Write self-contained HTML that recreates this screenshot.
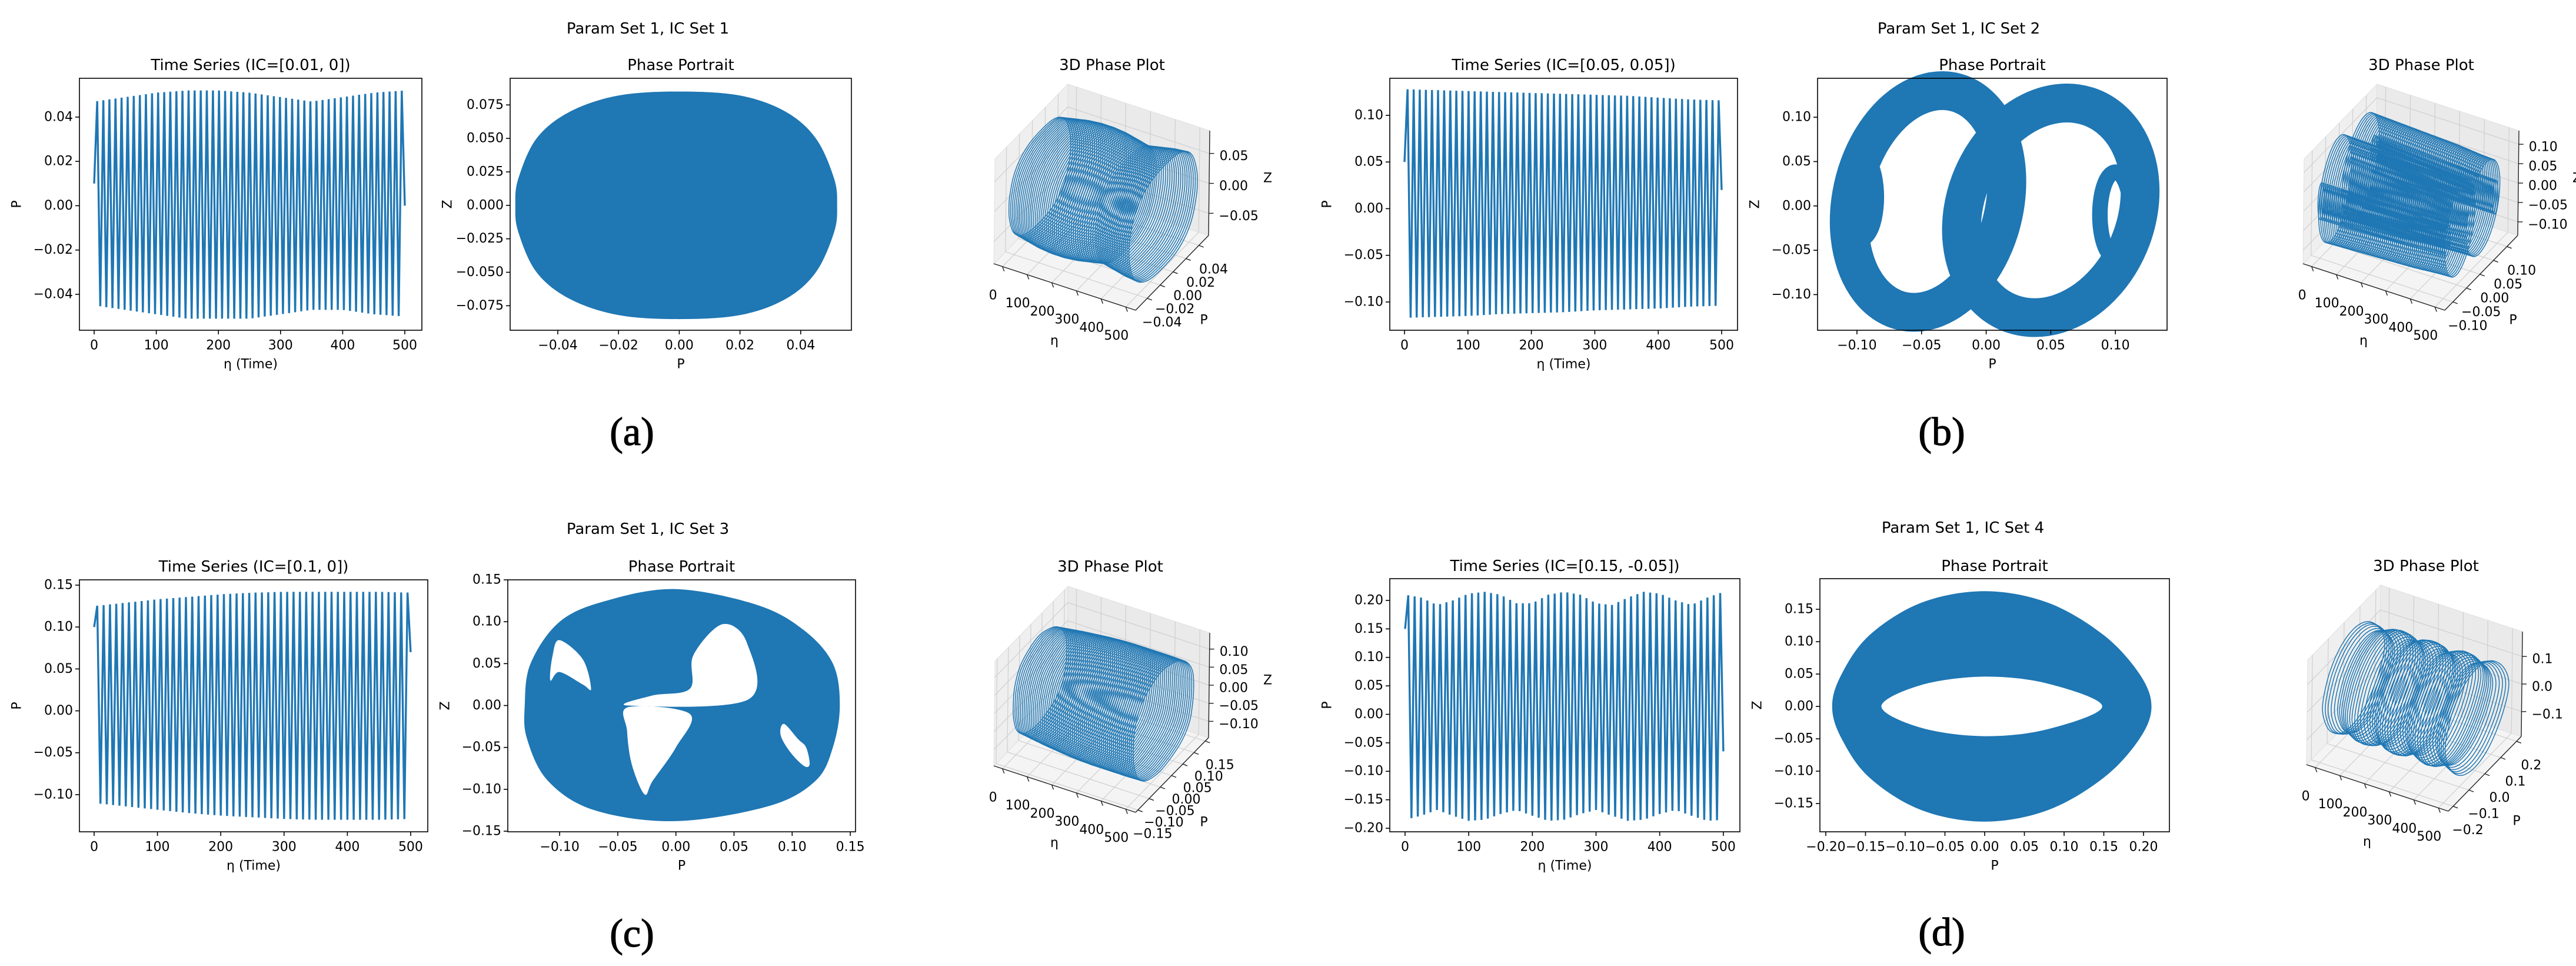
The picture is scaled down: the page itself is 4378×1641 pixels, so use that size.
<!DOCTYPE html>
<html><head><meta charset="utf-8"><style>
html,body{margin:0;padding:0;background:#fff;}
svg{display:block;font-family:"DejaVu Sans","Liberation Sans",sans-serif;}
</style></head><body>
<svg id="fig" width="4378" height="1641" viewBox="0 0 4378 1641" xmlns="http://www.w3.org/2000/svg">
<rect width="4378" height="1641" fill="#fff"/>
</svg>
<script>
// ---------- DATA ----------
const tsTimes = [0,50,100,150,200,250,300,350,400,450,500];
const tsUpperA = [0.047,0.049,0.051,0.052,0.052,0.051,0.049,0.047,0.049,0.051,0.052];
const tsLowerA = [-0.045,-0.047,-0.049,-0.051,-0.051,-0.051,-0.049,-0.047,-0.047,-0.049,-0.050];
const tsUpperB = [0.128,0.127,0.126,0.125,0.124,0.123,0.122,0.121,0.119,0.117,0.116];
const tsLowerB = [-0.117,-0.116,-0.115,-0.113,-0.112,-0.111,-0.109,-0.108,-0.107,-0.105,-0.104];
const tsUpperC = [0.125,0.129,0.133,0.136,0.139,0.141,0.142,0.142,0.142,0.142,0.141];
const tsLowerC = [-0.110,-0.114,-0.118,-0.122,-0.125,-0.127,-0.129,-0.130,-0.130,-0.130,-0.129];
const tsTimesD = [0,25,50,75,100,125,150,175,200,225,250,275,300,325,350,375,400,425,450,475,500];
const tsUpperD = [0.21,0.205,0.192,0.2,0.212,0.215,0.21,0.195,0.195,0.21,0.215,0.21,0.195,0.192,0.205,0.215,0.212,0.2,0.192,0.205,0.215];
const tsLowerD = [-0.185,-0.178,-0.168,-0.178,-0.187,-0.185,-0.175,-0.168,-0.178,-0.187,-0.185,-0.175,-0.168,-0.178,-0.187,-0.185,-0.175,-0.168,-0.178,-0.187,-0.185];
const tsCycles = [51,52,50,50];
const tsStart = [0.01,0.05,0.1,0.15];
const tsEnd = [0.0,0.02,0.07,-0.065];

const tsXTicks = [0,100,200,300,400,500];
const tsYTicksA = [-0.04,-0.02,0,0.02,0.04];
const tsYLabelsA = ["\u22120.04","\u22120.02","0.00","0.02","0.04"];
const tsYTicksB = [-0.10,-0.05,0,0.05,0.10];
const tsYLabelsB = ["\u22120.10","\u22120.05","0.00","0.05","0.10"];
const tsYTicksC = [-0.10,-0.05,0,0.05,0.10,0.15];
const tsYLabelsC = ["\u22120.10","\u22120.05","0.00","0.05","0.10","0.15"];
const tsYTicksD = [-0.20,-0.15,-0.10,-0.05,0,0.05,0.10,0.15,0.20];
const tsYLabelsD = ["\u22120.20","\u22120.15","\u22120.10","\u22120.05","0.00","0.05","0.10","0.15","0.20"];

const phXTicksA = [-0.04,-0.02,0,0.02,0.04];
const phXLabelsA = ["\u22120.04","\u22120.02","0.00","0.02","0.04"];
const phYTicksA = [-0.075,-0.05,-0.025,0,0.025,0.05,0.075];
const phYLabelsA = ["\u22120.075","\u22120.050","\u22120.025","0.000","0.025","0.050","0.075"];
const phXTicksB = [-0.10,-0.05,0,0.05,0.10];
const phXLabelsB = ["\u22120.10","\u22120.05","0.00","0.05","0.10"];
const phYTicksB = [-0.10,-0.05,0,0.05,0.10];
const phYLabelsB = ["\u22120.10","\u22120.05","0.00","0.05","0.10"];
const phXTicksC = [-0.10,-0.05,0,0.05,0.10,0.15];
const phXLabelsC = ["\u22120.10","\u22120.05","0.00","0.05","0.10","0.15"];
const phYTicksC = [-0.15,-0.10,-0.05,0,0.05,0.10,0.15];
const phYLabelsC = ["\u22120.15","\u22120.10","\u22120.05","0.00","0.05","0.10","0.15"];
const phXTicksD = [-0.20,-0.15,-0.10,-0.05,0,0.05,0.10,0.15,0.20];
const phXLabelsD = ["\u22120.20","\u22120.15","\u22120.10","\u22120.05","0.00","0.05","0.10","0.15","0.20"];
const phYTicksD = [-0.15,-0.10,-0.05,0,0.05,0.10,0.15];
const phYLabelsD = ["\u22120.15","\u22120.10","\u22120.05","0.00","0.05","0.10","0.15"];

// phase portrait outlines (P, Z)
const phOuterPA = [0,0.02,0.035,0.045,0.051,0.052,0.051,0.045,0.035,0.02,0,-0.02,-0.036,-0.047,-0.053,-0.054,-0.053,-0.047,-0.036,-0.02];
const phOuterZA = [0.085,0.082,0.07,0.05,0.02,0,-0.02,-0.05,-0.07,-0.082,-0.085,-0.082,-0.07,-0.05,-0.02,0,0.02,0.05,0.07,0.082];
const phOuterPC = [0.0,0.07,0.11,0.135,0.141,0.135,0.12,0.08,0.0,-0.07,-0.11,-0.128,-0.13,-0.125,-0.1,-0.06];
const phOuterZC = [0.139,0.12,0.09,0.05,0,-0.05,-0.09,-0.12,-0.138,-0.125,-0.09,-0.04,0,0.05,0.1,0.125];
const phHole1PC = [0.04,0.061,0.062,-0.041,-0.02,0.012,0.015];
const phHole1ZC = [0.097,0.075,0.007,0.0,0.012,0.02,0.06];
const phHole2PC = [-0.041,0.012,0.0,-0.02,-0.027,-0.038,-0.042];
const phHole2ZC = [-0.002,-0.01,-0.05,-0.09,-0.106,-0.07,-0.03];
const phHole3PC = [-0.1,-0.08,-0.073,-0.08,-0.1,-0.108,-0.106];
const phHole3ZC = [0.078,0.055,0.02,0.025,0.04,0.03,0.06];
const phHole4PC = [0.093,0.105,0.112,0.115,0.11,0.098,0.09];
const phHole4ZC = [-0.022,-0.04,-0.05,-0.07,-0.072,-0.055,-0.035];
const phOuterPD = [0.0,0.08,0.15,0.195,0.21,0.195,0.15,0.08,0,-0.08,-0.145,-0.18,-0.192,-0.18,-0.145,-0.08];
const phOuterZD = [0.178,0.16,0.11,0.05,0,-0.05,-0.11,-0.16,-0.178,-0.16,-0.11,-0.05,0,0.05,0.11,0.16];
const phHolePD = [-0.13,-0.08,0,0.08,0.148,0.08,0,-0.08];
const phHoleZD = [0,0.033,0.046,0.035,0,-0.035,-0.046,-0.033];
// panel b rings (bands)
const bRingCx = [-0.045,0.05,-0.097,0.1];
const bRingCz = [0.005,-0.005,0.01,-0.01];
const bRingRx = [0.06,0.068,0.012,0.012];
const bRingRz = [0.125,0.121,0.047,0.048];
const bRingShear = [0.011,0.0125,0,0];
const bRingWidth = [0.03,0.03,0.012,0.012];

// 3D tick values
const d3PTicksA=[-0.04,-0.02,0,0.02,0.04], d3PLabelsA=["\u22120.04","\u22120.02","0.00","0.02","0.04"];
const d3ZTicksA=[-0.05,0,0.05], d3ZLabelsA=["\u22120.05","0.00","0.05"];
const d3PTicksB=[-0.10,-0.05,0,0.05,0.10], d3PLabelsB=["\u22120.10","\u22120.05","0.00","0.05","0.10"];
const d3ZTicksB=[-0.10,-0.05,0,0.05,0.10], d3ZLabelsB=["\u22120.10","\u22120.05","0.00","0.05","0.10"];
const d3PTicksC=[-0.15,-0.10,-0.05,0,0.05,0.10,0.15], d3PLabelsC=["\u22120.15","\u22120.10","\u22120.05","0.00","0.05","0.10","0.15"];
const d3ZTicksC=[-0.10,-0.05,0,0.05,0.10], d3ZLabelsC=["\u22120.10","\u22120.05","0.00","0.05","0.10"];
const d3PTicksD=[-0.2,-0.1,0,0.1,0.2], d3PLabelsD=["\u22120.2","\u22120.1","0.0","0.1","0.2"];
const d3ZTicksD=[-0.1,0,0.1], d3ZLabelsD=["\u22120.1","0.0","0.1"];
const d3EtaTicks=[0,100,200,300,400,500];

// ---------- HELPERS ----------
const NS='http://www.w3.org/2000/svg';
const svg=document.getElementById('fig');
const BLUE='#1f77b4';
function mk(tag,parent){const e=document.createElementNS(NS,tag);(parent||svg).appendChild(e);return e;}
function scale(lim,a,b){return v=>a+(v-lim[0])/(lim[1]-lim[0])*(b-a);}
function interp(xs,ys,x){for(let i=0;i<xs.length-1;i++){if(x<=xs[i+1]){const f=(x-xs[i])/(xs[i+1]-xs[i]);return ys[i]+f*(ys[i+1]-ys[i]);}}return ys[ys.length-1];}
function smooth(pts){const n=pts.length;let d='M'+pts[0][0].toFixed(1)+','+pts[0][1].toFixed(1);
 for(let i=0;i<n;i++){const p0=pts[(i-1+n)%n],p1=pts[i],p2=pts[(i+1)%n],p3=pts[(i+2)%n];
  d+='C'+(p1[0]+(p2[0]-p0[0])/6).toFixed(1)+','+(p1[1]+(p2[1]-p0[1])/6).toFixed(1)+' '+(p2[0]-(p3[0]-p1[0])/6).toFixed(1)+','+(p2[1]-(p3[1]-p1[1])/6).toFixed(1)+' '+p2[0].toFixed(1)+','+p2[1].toFixed(1);}
 return d+'Z';}
function text(g,x,y,s,size,anchor,extra){const t=mk('text',g);t.setAttribute('x',x);t.setAttribute('y',y);t.setAttribute('font-size',size);t.setAttribute('text-anchor',anchor||'middle');t.setAttribute('dominant-baseline','central');t.setAttribute('fill','#000');if(extra)t.setAttribute('transform',extra);t.textContent=s;return t;}
function line(g,x1,y1,x2,y2,c,w){const l=mk('line',g);l.setAttribute('x1',x1);l.setAttribute('y1',y1);l.setAttribute('x2',x2);l.setAttribute('y2',y2);l.setAttribute('stroke',c);l.setAttribute('stroke-width',w);return l;}

function axesFrame(g,b,xt,xl,yt,yl,sx,sy,xlabel,ylabel){
 const r=mk('rect',g);r.setAttribute('x',b.l);r.setAttribute('y',b.t);r.setAttribute('width',b.r-b.l);r.setAttribute('height',b.b-b.t);r.setAttribute('fill','none');r.setAttribute('stroke','#000');r.setAttribute('stroke-width',1.6);
 
 
 xt.forEach((v,i)=>{const x=sx(v);const tk=line(g,x,b.b,x,b.b+7,'#000',1.6);
  
  
  const t=text(g,x,b.b+26,xl[i],22);
  
  });
 yt.forEach((v,i)=>{const y=sy(v);const tk=line(g,b.l-7,y,b.l,y,'#000',1.6);
  
  
  const t=text(g,b.l-11,y,yl[i],22,'end');
  
  });
 const xa=text(g,(b.l+b.r)/2,b.b+58,xlabel,22);
 
 
 const ya=text(g,b.l-106,(b.t+b.b)/2,ylabel,22,'middle','rotate(-90 '+(b.l-106)+' '+((b.t+b.b)/2)+')');
 
 
}

// ---------- LAYOUT ----------
const panels=[
 {key:'a',sup:'Param Set 1, IC Set 1',sub:'Time Series (IC=[0.01, 0])',supX:1101,supY:49,subY:111,lab:'(a)',labX:1074,labY:733,
  ts:{l:135,r:717,t:133,b:561,x:[-23.7,527.5],y:[-0.0562,0.0575]},ph:{l:867,r:1447,t:133,b:561,x:[-0.0557,0.0567],y:[-0.0933,0.0949]},
  d3:{A:[1689,448],title:1890},up:tsUpperA,lo:tsLowerA,tt:tsTimes,yt:tsYTicksA,yl:tsYLabelsA,pxt:phXTicksA,pxl:phXLabelsA,pyt:phYTicksA,pyl:phYLabelsA,
  pT:d3PTicksA,pL:d3PLabelsA,zT:d3ZTicksA,zL:d3ZLabelsA,pR:[-0.058,0.055],zR:[-0.087,0.088]},
 {key:'b',sup:'Param Set 1, IC Set 2',sub:'Time Series (IC=[0.05, 0.05])',supX:3329,supY:49,subY:111,lab:'(b)',labX:3300,labY:733,
  ts:{l:2362,r:2953,t:133,b:561,x:[-23.2,525],y:[-0.1303,0.1397]},ph:{l:3089,r:3683,t:133,b:561,x:[-0.1305,0.140],y:[-0.1402,0.1439]},
  d3:{A:[3914,448],title:4115},up:tsUpperB,lo:tsLowerB,tt:tsTimes,yt:tsYTicksB,yl:tsYLabelsB,pxt:phXTicksB,pxl:phXLabelsB,pyt:phYTicksB,pyl:phYLabelsB,
  pT:d3PTicksB,pL:d3PLabelsB,zT:d3ZTicksB,zL:d3ZLabelsB,pR:[-0.13,0.14],zR:[-0.135,0.135]},
 {key:'c',sup:'Param Set 1, IC Set 3',sub:'Time Series (IC=[0.1, 0])',supX:1101,supY:899,subY:963,lab:'(c)',labX:1074,labY:1585,
  ts:{l:135,r:727,t:985,b:1413,x:[-23.2,527],y:[-0.1443,0.1563]},ph:{l:863,r:1454,t:985,b:1413,x:[-0.1446,0.1545],y:[-0.1507,0.15]},
  d3:{A:[1689,1301],title:1887},up:tsUpperC,lo:tsLowerC,tt:tsTimes,yt:tsYTicksC,yl:tsYLabelsC,pxt:phXTicksC,pxl:phXLabelsC,pyt:phYTicksC,pyl:phYLabelsC,
  pT:d3PTicksC,pL:d3PLabelsC,zT:d3ZTicksC,zL:d3ZLabelsC,pR:[-0.16,0.165],zR:[-0.145,0.145]},
 {key:'d',sup:'Param Set 1, IC Set 4',sub:'Time Series (IC=[0.15, -0.05])',supX:3336,supY:897,subY:962,lab:'(d)',labX:3300,labY:1583,
  ts:{l:2362,r:2957,t:983,b:1413,x:[-24,526],y:[-0.2062,0.2382]},ph:{l:3093,r:3687,t:983,b:1413,x:[-0.2074,0.2326],y:[-0.1936,0.1973]},
  d3:{A:[3920,1299],title:4123},up:tsUpperD,lo:tsLowerD,tt:tsTimesD,yt:tsYTicksD,yl:tsYLabelsD,pxt:phXTicksD,pxl:phXLabelsD,pyt:phYTicksD,pyl:phYLabelsD,
  pT:d3PTicksD,pL:d3PLabelsD,zT:d3ZTicksD,zL:d3ZLabelsD,pR:[-0.23,0.23],zR:[-0.19,0.19]}
];
const etaR=[-35,540];

function phaseCurves(k){
 const z=(P,Z)=>P.map((p,i)=>[p,Z[i]]);
 if(k==='a')return {outer:[z(phOuterPA,phOuterZA)],holes:[]};
 if(k==='c')return {outer:[z(phOuterPC,phOuterZC)],holes:[z(phHole1PC,phHole1ZC),z(phHole2PC,phHole2ZC),z(phHole3PC,phHole3ZC),z(phHole4PC,phHole4ZC)]};
 if(k==='d')return {outer:[z(phOuterPD,phOuterZD)],holes:[z(phHolePD,phHoleZD)]};
 const rings=bRingCx.map((cx,i)=>{const pts=[];for(let j=0;j<24;j++){const t=j/24*2*Math.PI;pts.push([cx+bRingRx[i]*Math.cos(t)+bRingShear[i]*Math.sin(t),bRingCz[i]+bRingRz[i]*Math.sin(t)]);}return pts;});
 return {outer:rings,holes:[]};
}

panels.forEach((p,pi)=>{
 const g=mk('g');
 
 
 const st=text(g,p.supX,p.supY,p.sup,26);
 
 
 const lb=text(g,p.labX,p.labY,p.lab,68);
 lb.setAttribute('font-family','"Liberation Serif",serif');
 lb.setAttribute('stroke','#000');lb.setAttribute('stroke-width','1.2');
 
 

 // --- time series ---
 const tg=mk('g',g);
 
 
 const b=p.ts, sx=scale(b.x,b.l,b.r), sy=scale(b.y,b.b,b.t);
 const tt=text(tg,(b.l+b.r)/2,p.subY,p.sub,26);
 
 
 const N=tsCycles[pi]; let pts=[[sx(0),sy(tsStart[pi])]];
 for(let k=1;k<2*N;k++){const t=500*k/(2*N);const v=(k%2===1)?interp(p.tt,p.up,t):interp(p.tt,p.lo,t);pts.push([sx(t),sy(v)]);}
 pts.push([sx(500),sy(tsEnd[pi])]);
 const pl=mk('polyline',tg);
 pl.setAttribute('points',pts.map(q=>q[0].toFixed(1)+','+q[1].toFixed(1)).join(' '));
 pl.setAttribute('fill','none');pl.setAttribute('stroke',BLUE);pl.setAttribute('stroke-width',3.4);pl.setAttribute('stroke-linejoin','bevel');
 
 
 axesFrame(tg,b,tsXTicks,tsXTicks.map(String),p.yt,p.yl,sx,sy,'\u03b7 (Time)','P');

 // --- phase portrait ---
 const pg=mk('g',g);
 
 
 const c=p.ph, px=scale(c.x,c.l,c.r), pz=scale(c.y,c.b,c.t);
 const pt=text(pg,(c.l+c.r)/2,p.subY,'Phase Portrait',26);
 
 
 const cv=phaseCurves(p.key);
 if(p.key==='b'){
  cv.outer.forEach((ring,i)=>{const path=mk('path',pg);
   path.setAttribute('d',smooth(ring.map(q=>[px(q[0]),pz(q[1])])));
   path.setAttribute('fill','none');path.setAttribute('stroke',BLUE);
   path.setAttribute('stroke-width',(bRingWidth[i]*(c.r-c.l)/(c.x[1]-c.x[0])).toFixed(1));
   
   });
 } else {
  let d=cv.outer.map(r=>smooth(r.map(q=>[px(q[0]),pz(q[1])]))).join('')+cv.holes.map(r=>smooth(r.map(q=>[px(q[0]),pz(q[1])]))).join('');
  const path=mk('path',pg);path.setAttribute('d',d);path.setAttribute('fill',BLUE);path.setAttribute('fill-rule','evenodd');
  
  
 }
 axesFrame(pg,c,p.pxt,p.pxl,p.pyt,p.pyl,px,pz,'P','Z');

 // --- 3D plot ---
 const dg=mk('g',g);
 
 
 const A=p.d3.A, eE=[241,79], eP=[124,-127], eZ=[2,-178];
 const proj=(e,P,Z)=>{const fe=(e-etaR[0])/(etaR[1]-etaR[0]),fp=(P-p.pR[0])/(p.pR[1]-p.pR[0]),fz=(Z-p.zR[0])/(p.zR[1]-p.zR[0]);
  return [A[0]+fe*eE[0]+fp*eP[0]+fz*eZ[0],A[1]+fe*eE[1]+fp*eP[1]+fz*eZ[1]];};
 const dt=text(dg,p.d3.title,p.subY,'3D Phase Plot',26);
 
 
 const poly=(arr,fill,name)=>{const q=mk('polygon',dg);q.setAttribute('points',arr.map(v=>v[0].toFixed(1)+','+v[1].toFixed(1)).join(' '));q.setAttribute('fill',fill);q.setAttribute('stroke','#e0e0e0');q.setAttribute('stroke-width',1);
  
  };
 const E0=etaR[0],E1=etaR[1],P0=p.pR[0],P1=p.pR[1],Z0=p.zR[0],Z1=p.zR[1];
 poly([proj(E0,P0,Z0),proj(E1,P0,Z0),proj(E1,P1,Z0),proj(E0,P1,Z0)],'#f4f4f4','floor-pane');
 poly([proj(E0,P0,Z0),proj(E0,P1,Z0),proj(E0,P1,Z1),proj(E0,P0,Z1)],'#efefef','side-pane');
 poly([proj(E0,P1,Z0),proj(E1,P1,Z0),proj(E1,P1,Z1),proj(E0,P1,Z1)],'#eaeaea','back-pane');
 const gl=(a,b2)=>{const l=line(dg,a[0],a[1],b2[0],b2[1],'#cfcfcf',1.2);
  
  };
 d3EtaTicks.forEach(e=>{gl(proj(e,P0,Z0),proj(e,P1,Z0));gl(proj(e,P1,Z0),proj(e,P1,Z1));});
 p.pT.forEach(v=>{gl(proj(E0,v,Z1),proj(E0,v,Z0));gl(proj(E0,v,Z0),proj(E1,v,Z0));});
 p.zT.forEach(v=>{gl(proj(E0,P0,v),proj(E0,P1,v));gl(proj(E0,P1,v),proj(E1,P1,v));});
 // data rings
 const nR=p.key==='d'?50:64;
 for(let i=0;i<nR;i++){const e=500*i/(nR-1);
  const amp=interp(p.tt,p.up,e)/Math.max(...p.up);
  cv.outer.forEach(r=>{const path=mk('path',dg);
   path.setAttribute('d',smooth(r.map(q=>proj(e,q[0]*amp,q[1]*amp))));
   path.setAttribute('fill','none');path.setAttribute('stroke',BLUE);path.setAttribute('stroke-width',1.5);
   
   });}
 // axes lines
 const a0=proj(E0,P0,Z0),a1=proj(E1,P0,Z0),a2=proj(E1,P1,Z0),a3=proj(E1,P1,Z1);
 [[a0,a1],[a1,a2],[a2,a3]].forEach(s=>{const l=line(dg,s[0][0],s[0][1],s[1][0],s[1][1],'#222',1.4);
  
  });
 d3EtaTicks.forEach(e=>{const q=proj(e,P0,Z0);
  const tk=line(dg,q[0],q[1],q[0]+3,q[1]+8,'#222',1.4);
  
  
  const t=text(dg,q[0]-16,q[1]+49,String(e),22);
  
  });
 p.pT.forEach((v,i)=>{const q=proj(E1,v,Z0);
  const tk=line(dg,q[0],q[1],q[0]+8,q[1]+3,'#222',1.4);
  
  
  const t=text(dg,q[0]+25,q[1]+41,p.pL[i],22);
  
  });
 p.zT.forEach((v,i)=>{const q=proj(E1,P1,v);
  const tk=line(dg,q[0],q[1],q[0]+8,q[1],'#222',1.4);
  
  
  const t=text(dg,q[0]+17,q[1]+5,p.zL[i],22,'start');
  
  });
 const el=text(dg,A[0]+103,A[1]+131,'\u03b7',22);
 
 
 const pL=text(dg,A[0]+357,A[1]+96,'P',22);
 
 
 const zl=text(dg,A[0]+458,A[1]-145,'Z',22,'start');
 
 
});
</script>
</body></html>
